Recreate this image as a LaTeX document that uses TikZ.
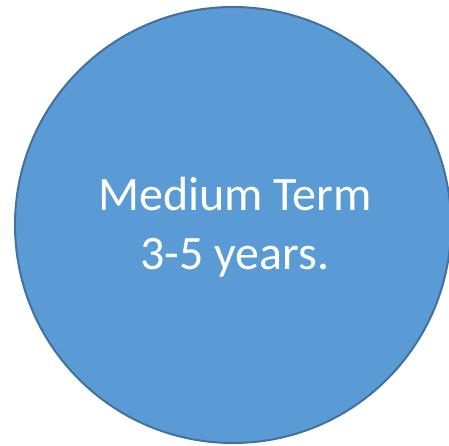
\documentclass[tikz,border=0pt]{standalone}
\usepackage{fontspec}
\setmainfont{Carlito}
\definecolor{termfill}{HTML}{5B9BD5}
\definecolor{termline}{HTML}{41719C}

\begin{document}
\begin{tikzpicture}[x=1pt, y=-1pt]
  % page
  \useasboundingbox (0,0) rectangle (449,446);
  \clip (0,0) rectangle (449,446);
  % circle
  \node[circle, draw=termline, fill=termfill, line width=2pt,
        minimum size=436pt, inner sep=0pt] (term) at (233,225) {};
  % text
  \node[align=center, text=white, font=\fontsize{48}{59}\selectfont,
        yshift=-2pt, xshift=2pt] (label) at (term.center) {Medium Term\\3-5 years.};
\end{tikzpicture}
\end{document}
